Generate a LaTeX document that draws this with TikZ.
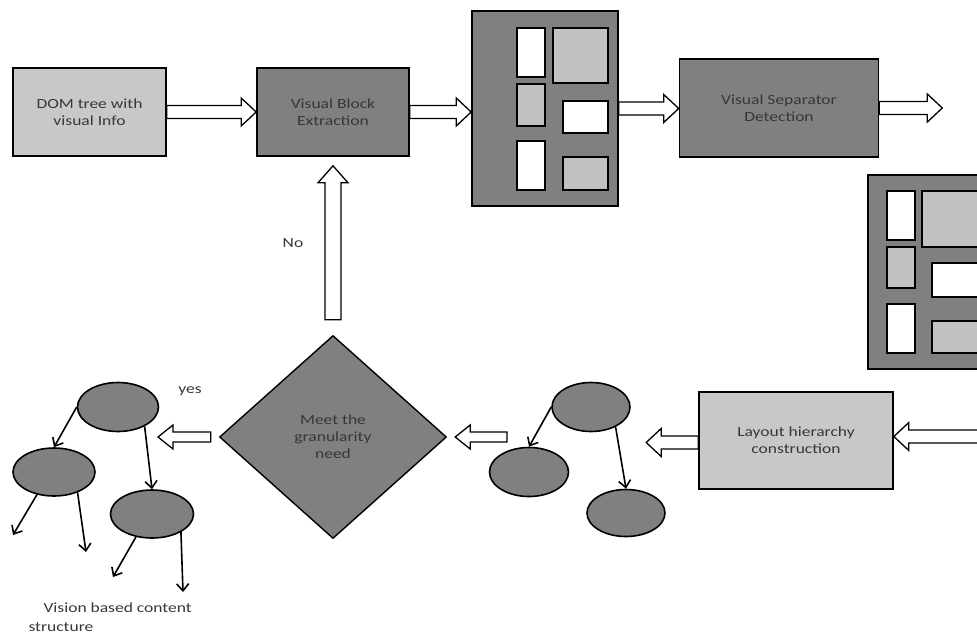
\documentclass[tikz,border=0pt]{standalone}
\usepackage{fontspec}
\setmainfont{Carlito}[FakeStretch=1.25]
\usetikzlibrary{calc,shapes.geometric,arrows.meta}
\definecolor{darkbox}{RGB}{128,128,128}
\definecolor{lightbox}{RGB}{200,200,200}
\definecolor{innergray}{RGB}{194,194,194}
\definecolor{txt}{RGB}{55,55,55}
\newcommand{\hollowarrow}[5]{%
  \coordinate (hac) at ($(#2)!#5!(#1)$);
  \draw[hollowstyle] ($(#1)!#3!90:(#2)$) -- ($(hac)!#3!90:(#2)$) -- ($(hac)!#4!90:(#2)$) -- (#2)
    -- ($(hac)!#4!-90:(#2)$) -- ($(hac)!#3!-90:(#2)$) -- ($(#1)!#3!-90:(#2)$) -- cycle;}
\begin{document}
\begin{tikzpicture}[x=1pt,y=-1pt,
  every node/.style={font=\fontsize{14}{17}\selectfont, text=txt},
  box/.style={draw=black, line width=1.6pt, inner sep=0pt, align=center},
  darkrect/.style={box, fill=darkbox},
  lightrect/.style={box, fill=lightbox},
  tnode/.style={ellipse, draw=black, line width=1.6pt, fill=darkbox, inner sep=0pt},
  hollowstyle/.style={draw=black, line width=1.3pt, fill=white, line join=miter},
  inwhite/.style={draw=black, line width=1.6pt, fill=white},
  ingray/.style={draw=black, line width=1.6pt, fill=innergray},
  edge/.style={draw=black, line width=1.6pt, -{Straight Barb[length=7pt,width=12pt,line width=1.6pt]}}]
\useasboundingbox (0,0) rectangle (977,635);
\clip (0,0) rectangle (977,635);

% top row boxes
\node[lightrect, minimum width=153pt, minimum height=88pt] (dom) at (89.5,112) {DOM tree with\\visual Info};
\node[darkrect, minimum width=152pt, minimum height=88pt] (vbe) at (333,112) {Visual Block\\Extraction};
\node[darkrect, minimum width=146pt, minimum height=195pt] (lay1) at (545,108.5) {};
\node[darkrect, minimum width=199pt, minimum height=98pt] (vsd) at (779,108) {Visual Separator\\Detection};

% layout 1 inner blocks
\draw[inwhite] (517,28) rectangle (545,77);
\draw[ingray] (517,84) rectangle (545,126);
\draw[inwhite] (517,141) rectangle (545,190);
\draw[ingray] (553,28) rectangle (608,83);
\draw[inwhite] (563,101) rectangle (608,133);
\draw[ingray] (563,157) rectangle (608,190);

% layout 2 (cut by the right edge)
\node[darkrect, minimum width=146pt, minimum height=194pt] (lay2) at (941,272) {};
\draw[inwhite] (887,191) rectangle (915,240);
\draw[ingray] (887,247) rectangle (915,288);
\draw[inwhite] (887,304) rectangle (915,353);
\draw[ingray] (922,191) rectangle (990,247);
\draw[inwhite] (932,263) rectangle (990,297);
\draw[ingray] (932,321) rectangle (990,353);

% bottom row
\node[lightrect, minimum width=194pt, minimum height=97pt] (lhc) at (796,440.5) {Layout hierarchy\\construction};
\node[diamond, draw=black, line width=1.4pt, fill=darkbox, inner sep=0pt,
      minimum width=227pt, minimum height=203pt, align=center] (dia) at (333,437) {Meet the\\granularity\\need};

% tree 2
\node[tnode, minimum width=78pt, minimum height=49pt] (t2r) at (591,407) {};
\node[tnode, minimum width=79pt, minimum height=49pt] (t2l) at (529,472) {};
\node[tnode, minimum width=78pt, minimum height=47pt] (t2c) at (626,513) {};
\draw[edge] (t2r.west) -- (t2l.north);
\draw[edge] (t2r.-39) -- (t2c.north);

% tree 1
\node[tnode, minimum width=81pt, minimum height=49pt] (t1r) at (118,407) {};
\node[tnode, minimum width=82pt, minimum height=48pt] (t1l) at (54,472) {};
\node[tnode, minimum width=83pt, minimum height=48pt] (t1c) at (152,514) {};
\coordinate (l1) at (13,535);
\coordinate (l2) at (86,552);
\coordinate (l3) at (113,577);
\coordinate (l4) at (183,592);
\draw[edge] (t1r.west) -- (t1l.north);
\draw[edge] (t1r.-36) -- (t1c.north);
\draw[edge] (t1l.-127) -- (l1);
\draw[edge] (t1l.-41) -- (l2);
\draw[edge] (t1c.-125) -- (l3);
\draw[edge] (t1c.-32) -- (l4);

% labels
\node (no) at (293,243) {No};
\node (yes) at (190,391) {yes};
\node[anchor=base west, align=left, font=\fontsize{14}{19}\selectfont] (vbcs) at (25,631) {\hspace{15pt}Vision based content\\structure};

% hollow arrows
\coordinate (a2e) at (vbe.east -| lay1.west);
\coordinate (a3e) at (lay1.east -| vsd.west);
\coordinate (a4e) at ($(vsd.east)+(63,0)$);
\coordinate (a5s) at ($(lhc.east)+(95,-4)$);
\coordinate (a5e) at ($(lhc.east)+(0,-4)$);
\coordinate (a6s) at ($(lhc.west)+(0,2)$);
\coordinate (a6e) at ($(lhc.west)+(-52,2)$);
\coordinate (a7s) at (507,437);
\coordinate (a7e) at ($(dia.east)+(8,0)$);
\coordinate (a8s) at ($(dia.west)+(-8,0)$);
\coordinate (a8e) at (158,437);
\coordinate (a9s) at ($(dia.north)+(0,-15)$);
\coordinate (a9e) at ($(vbe.south)+(0,9)$);
\hollowarrow{dom.east}{vbe.west}{6.5pt}{14pt}{15pt}
\hollowarrow{vbe.east}{a2e}{6.5pt}{14pt}{15pt}
\hollowarrow{lay1.east}{a3e}{6.5pt}{14pt}{15pt}
\hollowarrow{vsd.east}{a4e}{6.5pt}{14pt}{15pt}
\hollowarrow{a5s}{a5e}{6.5pt}{14pt}{15pt}
\hollowarrow{a6s}{a6e}{6.5pt}{14pt}{15pt}
\hollowarrow{a7s}{a7e}{5pt}{12pt}{15pt}
\hollowarrow{a8s}{a8e}{5pt}{12pt}{15pt}
\hollowarrow{a9s}{a9e}{8pt}{15pt}{17pt}
\end{tikzpicture}
\end{document}
